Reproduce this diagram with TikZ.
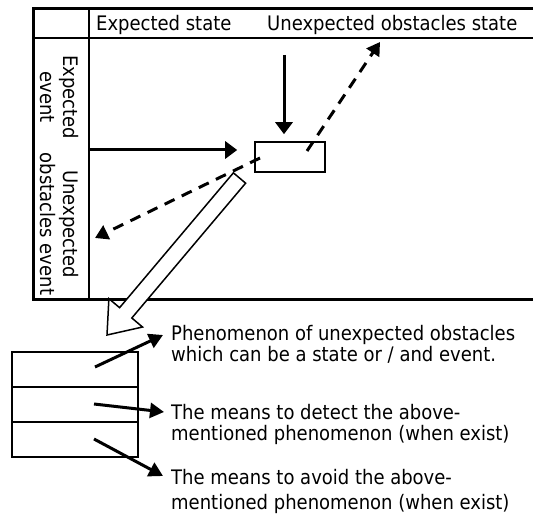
\documentclass[tikz,border=0pt]{standalone}
\usepackage{fontspec}
\setmainfont{DejaVu Sans Condensed}
\usetikzlibrary{arrows.meta,calc}

\begin{document}
\begin{tikzpicture}[x=1pt,y=-1pt,
  frame/.style={line width=3pt,line join=miter},
  rule/.style={line width=2.2pt},
  solidarrow/.style={line width=3pt,-{Triangle[length=12pt,width=17pt]}},
  dasharrow/.style={line width=3pt,dash pattern=on 11pt off 8pt,-{Triangle[length=13pt,width=15pt]}},
  smallarrow/.style={line width=3pt,-{Triangle[length=14pt,width=15pt]}},
  txt/.style={inner sep=0pt,font=\fontsize{20}{21}\selectfont},
  vtxt/.style={inner sep=0pt,rotate=-90,align=center,font=\fontsize{20}{23}\selectfont},
  event/.style={draw,line width=1.6pt,minimum width=70pt,minimum height=30pt,inner sep=0pt},
  row/.style={draw,line width=2.5pt,minimum width=126pt,minimum height=35pt,inner sep=0pt},
  hollow/.style={draw,fill=white,line width=1.5pt,line join=miter}
]
\useasboundingbox (0,0) rectangle (533,516);

% table frame and rules
\draw[frame] (533,9) -- (33,9) -- (33,299) -- (533,299);
\draw[rule] (33,38) -- (533,38);
\draw[line width=2pt] (89,9) -- (89,299);

% headings
\node[txt,anchor=base west] (hstate) at (96,31) {Expected state};
\node[txt,anchor=base west] (ustate) at (267,31) {Unexpected obstacles state};
\node[vtxt] (hevent) at (59,97) {Expected\\event};
\node[vtxt] (uevent) at (59,224) {Unexpected\\obstacles event};

% the combined case
\node[event] (ev) at (290,157) {};

% hollow arrow down to the description box
\coordinate (hs) at (239.5,178);
\coordinate (ht) at (107,335);
\coordinate (hb) at ($(ht)!29pt!(hs)$);
\draw[hollow] ($(hs)!8pt!90:(ht)$) -- ($(hb)!8pt!90:(ht)$) -- ($(hb)!22pt!90:(ht)$)
  -- (ht) -- ($(hb)!22pt!-90:(ht)$) -- ($(hb)!8pt!-90:(ht)$) -- ($(hs)!8pt!-90:(ht)$) -- cycle;

% arrows into the combined case
\coordinate (vtop) at (284,55);
\draw[solidarrow,shorten >=7pt] (vtop) -- (vtop |- ev.north);
\coordinate (hleft) at (89,150);
\draw[solidarrow,shorten >=17pt] (hleft) -- (hleft -| ev.west);

% dashed arrows out of the combined case
\coordinate (d1s) at ($(ev.center)+(17,-6)$);
\coordinate (d1e) at (380,42);
\draw[dasharrow] (d1s) -- (d1e);
\coordinate (d2s) at ($(ev.center)+(-30,1)$);
\coordinate (d2e) at (95,238);
\draw[dasharrow] (d2s) -- (d2e);

% description box
\node[row] (r1) at (75,369.5) {};
\node[row] (r2) at (75,404.5) {};
\node[row] (r3) at (75,439.5) {};

% descriptions (placed by the baseline of their last line)
\node[txt,anchor=base west,align=left] (t1) at (171,361)
  {Phenomenon of unexpected obstacles\\which can be a state or / and event.};
\node[txt,anchor=base west,align=left] (t2) at (171,440)
  {The means to detect the above-\\mentioned phenomenon (when exist)};
\node[txt,anchor=base west,align=left,font=\fontsize{20}{25}\selectfont] (t3) at (171,509)
  {The means to avoid the above-\\mentioned phenomenon (when exist)};

\coordinate (a1s) at (95,367);
\coordinate (a1e) at (163,335);
\coordinate (a2s) at (94,404);
\coordinate (a2e) at (164,412);
\coordinate (a3s) at (94,439);
\coordinate (a3e) at (163,476);
\draw[smallarrow] (a1s) -- (a1e);
\draw[smallarrow] (a2s) -- (a2e);
\draw[smallarrow] (a3s) -- (a3e);
\end{tikzpicture}
\end{document}
